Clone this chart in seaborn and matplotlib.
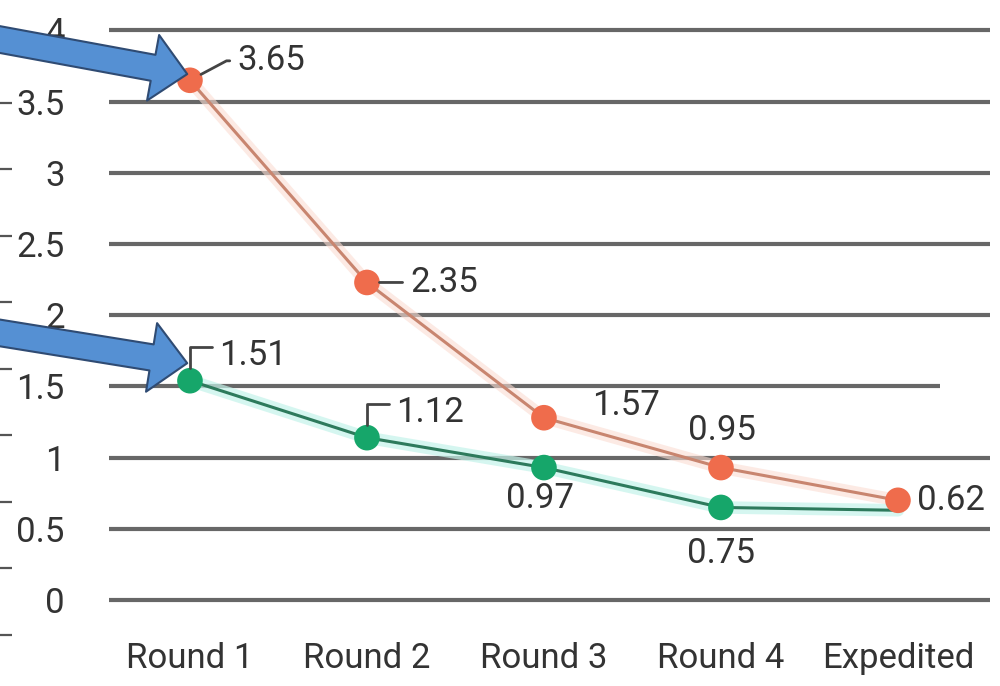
import numpy as np
import pandas as pd
import matplotlib.pyplot as plt
import seaborn as sns

# data
rounds = ["Round 1", "Round 2", "Round 3", "Round 4", "Expedited"]
orange_vals = [3.65, 2.23, 1.28, 0.93, 0.70]
green_vals = [1.54, 1.14, 0.93, 0.65, 0.63]
orange_labels = ["3.65", "2.35", "1.57", "0.95", "0.62"]
green_labels = ["1.51", "1.12", "0.97", "0.75"]
y_ticks = [0, 0.5, 1, 1.5, 2, 2.5, 3, 3.5, 4]
y_tick_labels = ["0", "0.5", "1", "1.5", "2", "2.5", "3", "3.5", "4"]

sns.set_style("white")
plt.rcParams["font.family"] = ["Roboto", "DejaVu Sans"]

fig = plt.figure(figsize=(10, 6.86), dpi=100)
ax = fig.add_axes([0.105, 0.115, 0.885, 0.851])

# horizontal grid lines (the 1.5 one is shorter in the original)
for yv in y_ticks:
    right = 4.24 if yv == 1.5 else 4.52
    ax.hlines(yv, -0.46, right, color="#676767", lw=3, zorder=1)

# ✅ lines with a soft glow
sns.lineplot(x=rounds, y=orange_vals, sort=False, color="#fbdcd2", lw=9, alpha=0.6, ax=ax, zorder=2)
sns.lineplot(x=rounds, y=orange_vals, sort=False, color="#c8856f", lw=2.2, ax=ax, zorder=3)
sns.lineplot(x=rounds, y=green_vals, sort=False, color="#c4f3ea", lw=9, alpha=0.7, ax=ax, zorder=2)
sns.lineplot(x=rounds, y=green_vals, sort=False, color="#2d7a5c", lw=2.2, ax=ax, zorder=3)

# ✅ markers
sns.scatterplot(x=rounds[:4], y=green_vals[:4], s=340, color="#16a66a", edgecolor="none", ax=ax, zorder=4)
sns.scatterplot(x=rounds, y=orange_vals, s=340, color="#ef6c4c", edgecolor="none", ax=ax, zorder=5)

# ✅ data labels
lab = dict(fontsize=25, color="#333333", annotation_clip=False, zorder=6)
lead = dict(arrowstyle="-", color="#444444", lw=2, shrinkA=3, shrinkB=9)

ax.annotate(orange_labels[0], xy=(0, orange_vals[0]), xytext=(34, 14), textcoords="offset points",
            ha="left", va="center",
            arrowprops=dict(lead, relpos=(0, 0.5), connectionstyle="angle,angleA=0,angleB=28,rad=0"), **lab)
ax.annotate(orange_labels[1], xy=(1, orange_vals[1]), xytext=(31, 0), textcoords="offset points",
            ha="left", va="center", arrowprops=dict(lead, relpos=(0, 0.5)), **lab)
ax.annotate(orange_labels[2], xy=(2, orange_vals[2]), xytext=(59, 9), textcoords="offset points",
            ha="center", va="center", **lab)
ax.annotate(orange_labels[3], xy=(3, orange_vals[3]), xytext=(1, 27), textcoords="offset points",
            ha="center", va="center", **lab)
ax.annotate(orange_labels[4], xy=(4, orange_vals[4]), xytext=(14, 0), textcoords="offset points",
            ha="left", va="center", **lab)

ax.annotate(green_labels[0], xy=(0, green_vals[0]), xytext=(21, 18), textcoords="offset points",
            ha="left", va="center",
            arrowprops=dict(lead, relpos=(0, 0.75), connectionstyle="angle,angleA=0,angleB=90,rad=0"), **lab)
ax.annotate(green_labels[1], xy=(1, green_vals[1]), xytext=(21, 18), textcoords="offset points",
            ha="left", va="center",
            arrowprops=dict(lead, relpos=(0, 0.75), connectionstyle="angle,angleA=0,angleB=90,rad=0"), **lab)
ax.annotate(green_labels[2], xy=(2, green_vals[2]), xytext=(-3, -22), textcoords="offset points",
            ha="center", va="center", **lab)
ax.annotate(green_labels[3], xy=(3, green_vals[3]), xytext=(0, -33), textcoords="offset points",
            ha="center", va="center", **lab)

# ✅ blue call-out arrows
blue = dict(fc="#5590d3", ec="#2f4b73", lw=1.5, mutation_scale=20, shrinkA=0, shrinkB=2)
ax.annotate("", xy=(0, orange_vals[0] + 0.04), xytext=(-0.01, 0.945), textcoords="figure fraction",
            arrowprops=dict(blue, arrowstyle="simple,head_length=1.25,head_width=2.4,tail_width=0.95"),
            annotation_clip=False, zorder=7)
ax.annotate("", xy=(0, green_vals[0] + 0.12), xytext=(-0.01, 0.517), textcoords="figure fraction",
            arrowprops=dict(blue, arrowstyle="simple,head_length=1.3,head_width=2.5,tail_width=0.95"),
            annotation_clip=False, zorder=7)

# axes styling
ax.set_xlim(-0.48, 4.52)
ax.set_ylim(-0.05, 4.05)
ax.set_yticks(y_ticks)
ax.set_yticklabels(y_tick_labels)
ax.set_xticks(range(len(rounds)))
ax.set_xticklabels(rounds)
ax.tick_params(axis="y", length=0, pad=29, labelsize=25, labelcolor="#333333")
ax.tick_params(axis="x", length=0, pad=25, labelsize=25, labelcolor="#333333")
ax.set_xlabel("")
ax.set_ylabel("")
for s in ax.spines.values():
    s.set_visible(False)

# little dashes on the far left (cut-off axis)
ax_l = fig.add_axes([0.012, 1 - 650 / 686, 0.0001, 560 / 686])
ax_l.set_ylim(-0.2256, 8.195)
ax_l.set_yticks(range(9))
ax_l.set_xticks([])
ax_l.tick_params(axis="y", left=True, direction="out", length=9, width=1.6, color="#555555", labelleft=False)
ax_l.patch.set_alpha(0)
for s in ax_l.spines.values():
    s.set_visible(False)

plt.savefig("out.png", dpi=100)
